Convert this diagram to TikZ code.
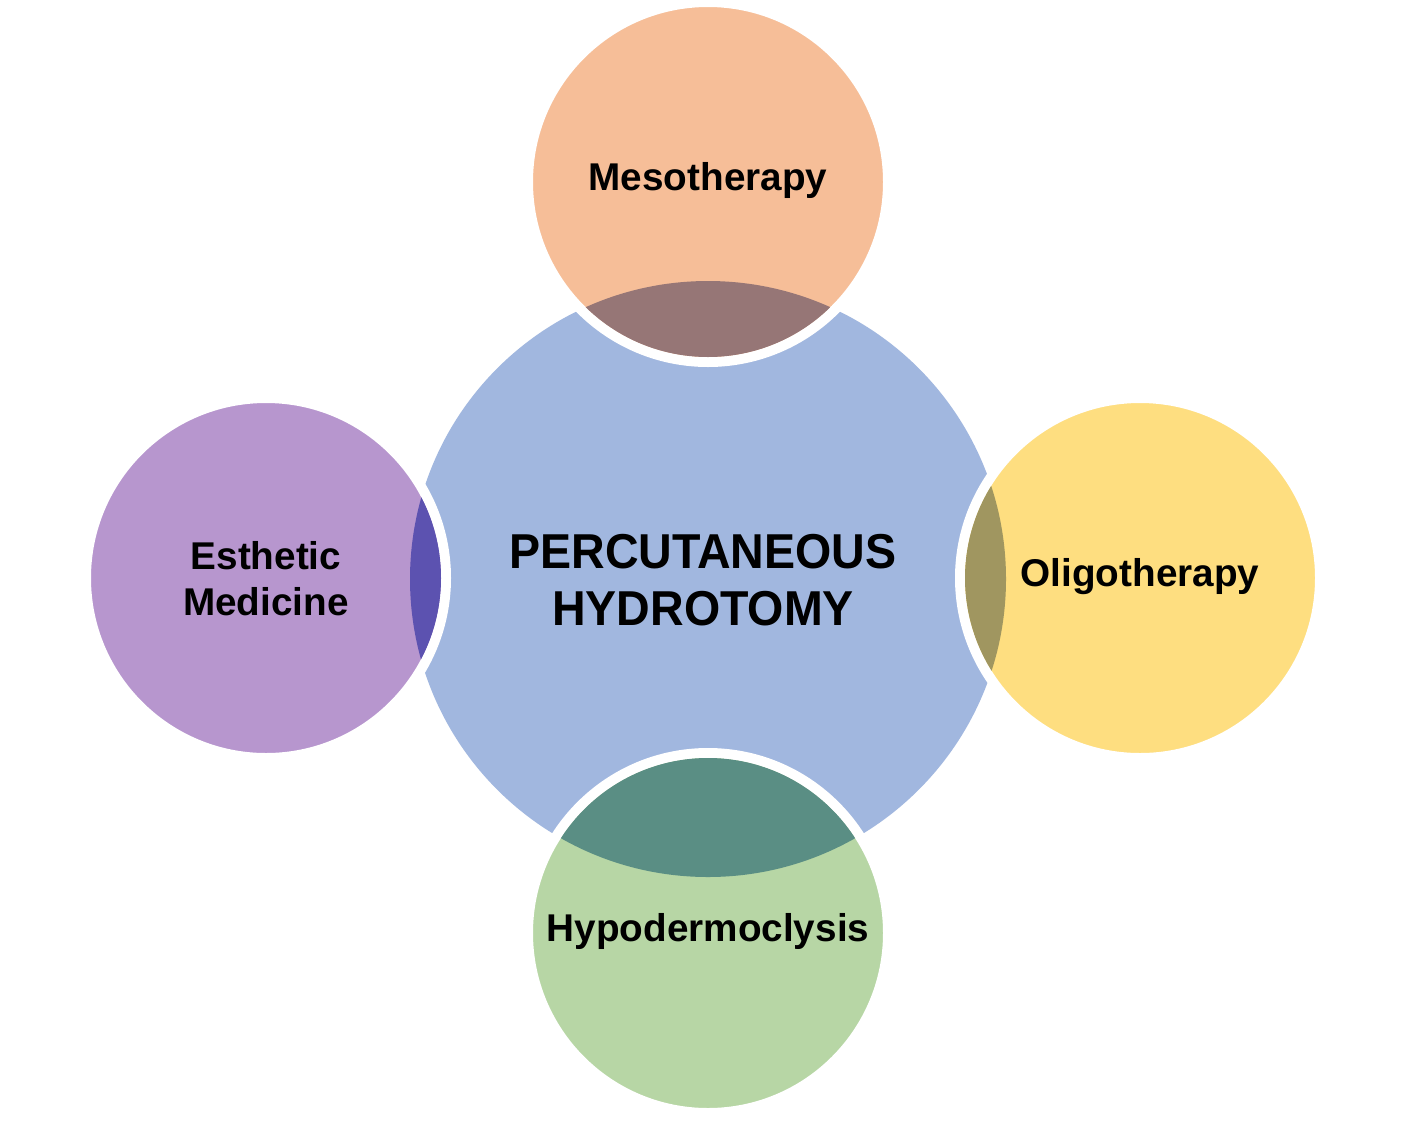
\documentclass[tikz,border=0pt]{standalone}
\usepackage{fontspec}
\setmainfont{Liberation Sans}
\definecolor{cblue}{RGB}{161,183,223}
\definecolor{cpeach}{RGB}{246,190,152}
\definecolor{lpeach}{RGB}{150,118,118}
\definecolor{cpurple}{RGB}{183,150,206}
\definecolor{lpurple}{RGB}{92,82,176}
\definecolor{cyellow}{RGB}{254,222,128}
\definecolor{lyellow}{RGB}{160,150,96}
\definecolor{cgreen}{RGB}{183,214,165}
\definecolor{lgreen}{RGB}{90,142,132}
\tikzset{
  sat/.style={circle, inner sep=0pt, outer sep=0pt, minimum size=360pt, draw=white, line width=10pt},
  sattext/.style={font=\fontsize{38.7}{46}\selectfont\bfseries, align=center, text=black},
  maintext/.style={font=\fontsize{49}{57}\selectfont\bfseries, align=center, text=black, xscale=0.95, transform shape}
}
\begin{document}
\begin{tikzpicture}[x=1pt,y=-1pt]
\useasboundingbox[fill=white] (0,0) rectangle (1410,1130);
\node[circle, inner sep=0pt, minimum size=596pt, fill=cblue] (c) at (708,579) {};
\node[sat, fill=cpeach] (top) at (708,182) {};
\node[sat, fill=cpurple] (left) at (266,578) {};
\node[sat, fill=cyellow] (right) at (1140,578) {};
\node[sat, fill=cgreen] (bot) at (708,933) {};
\begin{scope}
  \clip (c.center) circle[radius=298pt];
  \fill[lpeach] (top.center) circle[radius=175pt];
  \fill[lpurple] (left.center) circle[radius=175pt];
  \fill[lyellow] (right.center) circle[radius=175pt];
  \fill[lgreen] (bot.center) circle[radius=175pt];
\end{scope}
\node[maintext] (ct) at (703,580) {PERCUTANEOUS\\HYDROTOMY};
\node[sattext] (tt) at (708,180) {Mesotherapy};
\node[sattext] (lt) at (266,579) {Esthetic\\Medicine};
\node[sattext] (rt) at (1140,577) {Oligotherapy};
\node[sattext] (bt) at (708,931) {Hypodermoclysis};
\end{tikzpicture}
\end{document}
